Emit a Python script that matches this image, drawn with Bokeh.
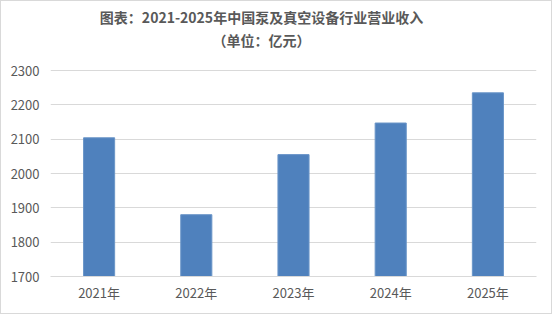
from bokeh.plotting import figure
from bokeh.models import FactorRange, Range1d, FixedTicker, Label, ColumnDataSource
from bokeh.embed import file_html
from bokeh.resources import INLINE

years = ["2021年", "2022年", "2023年", "2024年", "2025年"]
revenue = [2104, 1880, 2055, 2147, 2235]
y_ticks = [1700, 1800, 1900, 2000, 2100, 2200, 2300]
title_line1 = "图表：2021-2025年中国泵及真空设备行业营业收入"
title_line2 = "（单位：亿元）"

FONT = "Noto Sans CJK SC"
TXT = "#595959"

# frame reaches the top of the canvas: 206 px per 600 units below the 2300 line,
# plus the title band (69 px) above it
PLOT_H = 206
TOP_BAND = 69
y_end = y_ticks[-1] + (y_ticks[-1] - y_ticks[0]) * TOP_BAND / PLOT_H

src = ColumnDataSource(dict(x=years, y=revenue))

p = figure(width=552, height=314, x_range=FactorRange(*years, range_padding=0),
           y_range=Range1d(y_ticks[0], y_end), output_backend="svg", toolbar_location=None,
           min_border_left=49, min_border_right=17, min_border_top=0, min_border_bottom=39)
p.styles = {"border": "1px solid #d9d9d9"}
p.outline_line_color = None
p.background_fill_color = "white"

p.vbar(x="x", top="y", bottom=y_ticks[0], width=0.32, source=src,
       fill_color="#4F81BD", line_color="#6a95c8", line_width=1)

p.yaxis.ticker = FixedTicker(ticks=y_ticks)
p.yaxis.axis_line_color = None
p.yaxis.major_tick_line_color = None
p.yaxis.minor_tick_line_color = None
p.yaxis.major_label_text_color = TXT
p.yaxis.major_label_text_font = FONT
p.yaxis.major_label_text_font_size = "13px"
p.yaxis.major_label_standoff = 5

p.xaxis.axis_line_color = "#d9d9d9"
p.xaxis.major_tick_line_color = None
p.xaxis.minor_tick_line_color = None
p.xaxis.major_label_text_color = TXT
p.xaxis.major_label_text_font = FONT
p.xaxis.major_label_text_font_size = "13px"
p.xaxis.major_label_standoff = 0

p.xgrid.grid_line_color = None
p.ygrid.grid_line_color = "#d9d9d9"
p.ygrid.grid_line_width = 1

for txt, yy in [(title_line1, 260), (title_line2, 237)]:
    p.add_layout(Label(x=211, y=yy, x_units="screen", y_units="screen", text=txt,
                       text_align="center", text_baseline="middle",
                       text_font=FONT, text_font_size="14px", text_font_style="bold",
                       text_color=TXT))

open("out.html", "w").write(file_html(p, INLINE))
